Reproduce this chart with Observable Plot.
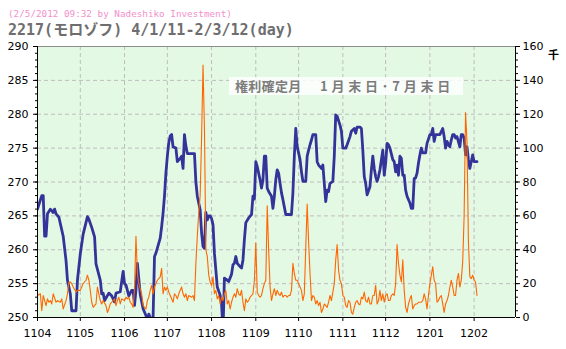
<!DOCTYPE html>
<html><head><meta charset="utf-8">
<script src="https://cdn.jsdelivr.net/npm/d3@7"></script>
<script src="https://cdn.jsdelivr.net/npm/@observablehq/plot@0.6"></script>
<style>
html,body{margin:0;padding:0;background:#fff}
body{width:566px;height:349px;position:relative;overflow:hidden}
#t1{position:absolute;left:8px;top:9px;font:9.3px "DejaVu Sans Mono",monospace;line-height:10px;color:#f48fcb;white-space:pre}
#t2{position:absolute;left:8px;top:23px;font:bold 15px "DejaVu Sans Mono","Noto Sans CJK JP",monospace;line-height:15px;color:#6e6e6e;white-space:pre}
#chart{position:absolute;left:0;top:40px}
#note{position:absolute;left:229px;top:77px;width:234px;height:18px;background:rgba(255,255,255,0.82)}
#note span{position:absolute;top:0;font:bold 13px "Noto Sans CJK JP",sans-serif;line-height:18px;color:#7c7c7c;white-space:pre}
#unit{position:absolute;left:548px;top:48px;font:bold 11px "Noto Sans CJK JP",sans-serif;line-height:12px;color:#000}
</style></head>
<body>
<div id="t1">(2/5/2012 09:32 by Nadeshiko Investment)</div>
<div id="t2">2217(モロゾフ) 4/1/11-2/3/12(day)</div>
<div id="chart"></div>
<div id="note"><span id="n1" style="left:6px;letter-spacing:0.3px">権利確定月</span><span id="n2" style="left:91px;letter-spacing:3.8px">1月末日･7月末日</span></div>
<div id="unit">千</div>
<script>
// ---- data ----
const priceData = [
["2011-04-01",266],["2011-04-04",268],["2011-04-05",268],["2011-04-06",262],["2011-04-07",262],["2011-04-08",265.3],
["2011-04-10",266],["2011-04-12",265.5],["2011-04-13",266],["2011-04-14",265.3],["2011-04-16",264.8],["2011-04-19",262],
["2011-04-21",258.4],["2011-04-22",255.5],["2011-04-24",253.5],["2011-04-25",251],["2011-04-28",251],["2011-04-29",255.5],
["2011-05-01",259.4],["2011-05-03",262.3],["2011-05-06",264.9],["2011-05-07",264.5],["2011-05-09",263.3],["2011-05-11",261.9],
["2011-05-12",257.9],["2011-05-15",255.5],["2011-05-16",253.5],["2011-05-17",253.6],["2011-05-18",252.5],["2011-05-21",253.6],
["2011-05-23",253.2],["2011-05-25",252.3],["2011-05-26",253.6],["2011-05-29",253.8],["2011-05-31",256.8],["2011-06-01",255],
["2011-06-02",254.8],["2011-06-04",253.2],["2011-06-06",254],["2011-06-07",254],["2011-06-08",251.8],["2011-06-09",254],
["2011-06-10",258],["2011-06-12",253.4],["2011-06-14",251.3],["2011-06-16",250.3],["2011-06-17",249.5],["2011-06-18",250.5],
["2011-06-20",249.5],["2011-06-21",250],["2011-06-22",259],["2011-06-23",259.5],["2011-06-26",261.7],["2011-06-27",263.4],
["2011-06-28",265.4],["2011-06-29",267.9],["2011-06-30",271.3],["2011-07-01",273.8],["2011-07-02",275.8],["2011-07-03",276.8],
["2011-07-04",277],["2011-07-05",275.2],["2011-07-07",275],["2011-07-08",273],["2011-07-10",273.5],["2011-07-11",273.8],
["2011-07-12",272],["2011-07-13",277],["2011-07-14",275.3],["2011-07-15",274.2],["2011-07-20",274.2],["2011-07-21",270],
["2011-07-22",267.9],["2011-07-24",265.9],["2011-07-25",262.5],["2011-07-26",260.5],["2011-07-27",260.2],["2011-07-28",265.5],
["2011-07-29",264.4],["2011-07-30",265],["2011-07-31",265],["2011-08-01",264.6],["2011-08-02",263.7],["2011-08-03",259.5],
["2011-08-04",257],["2011-08-05",254.5],["2011-08-07",253.3],["2011-08-08",252],["2011-08-09",248],["2011-08-10",255.8],
["2011-08-12",255.5],["2011-08-13",255.3],["2011-08-15",256.4],["2011-08-16",257.8],["2011-08-17",258],["2011-08-18",259],
["2011-08-19",258],["2011-08-21",257.5],["2011-08-22",257.3],["2011-08-23",258.5],["2011-08-24",261.5],["2011-08-25",264],
["2011-08-27",264.7],["2011-08-29",265.2],["2011-08-30",267.9],["2011-08-31",267.5],["2011-09-01",273],["2011-09-02",272.3],
["2011-09-03",271.3],["2011-09-04",270.3],["2011-09-05",269.1],["2011-09-06",270.3],["2011-09-07",273.8],["2011-09-08",273.8],
["2011-09-09",269.1],["2011-09-10",268.6],["2011-09-12",267.9],["2011-09-13",266.1],["2011-09-14",267.9],["2011-09-15",270.3],
["2011-09-16",271.8],["2011-09-17",271.3],["2011-09-18",269.8],["2011-09-19",268.4],["2011-09-20",267.4],["2011-09-22",265.2],
["2011-09-26",265.2],["2011-09-27",268.4],["2011-09-28",273.8],["2011-09-29",277.9],["2011-09-30",275.2],["2011-10-01",274.3],
["2011-10-02",273.3],["2011-10-03",271.5],["2011-10-04",270.1],["2011-10-06",270.1],["2011-10-07",273.8],["2011-10-08",274.7],
["2011-10-09",275.5],["2011-10-10",276.2],["2011-10-11",277],["2011-10-13",277],["2011-10-14",273],["2011-10-15",272.5],
["2011-10-17",272],["2011-10-18",272.5],["2011-10-20",267.1],["2011-10-21",268.8],["2011-10-22",268.6],["2011-10-23",269.8],
["2011-10-25",270.1],["2011-10-26",273.8],["2011-10-27",279.9],["2011-10-28",279.7],["2011-10-30",278.4],["2011-10-31",277.5],
["2011-11-01",275],["2011-11-03",275],["2011-11-04",275.5],["2011-11-06",276.7],["2011-11-07",277.5],["2011-11-09",277.9],
["2011-11-10",277.2],["2011-11-11",278.1],["2011-11-13",278.1],["2011-11-14",277.9],["2011-11-15",274.7],["2011-11-16",270.8],
["2011-11-17",269.8],["2011-11-18",268.1],["2011-11-20",269.3],["2011-11-21",271.8],["2011-11-22",273.8],["2011-11-23",272],
["2011-11-24",270.8],["2011-11-25",270.1],["2011-11-26",270.8],["2011-11-27",271.8],["2011-11-29",274.7],["2011-11-30",271],
["2011-12-01",272.8],["2011-12-02",275.7],["2011-12-03",275.5],["2011-12-04",275],["2011-12-06",273.3],["2011-12-07",273],
["2011-12-08",271.5],["2011-12-09",272.5],["2011-12-10",271],["2011-12-11",273.8],["2011-12-12",273.5],["2011-12-13",271],
["2011-12-14",271],["2011-12-15",268.8],["2011-12-16",267.9],["2011-12-18",266.9],["2011-12-19",266.1],["2011-12-20",266.1],
["2011-12-21",270.5],["2011-12-22",270.6],["2011-12-23",271.3],["2011-12-24",272.8],["2011-12-25",274],["2011-12-26",275],
["2011-12-27",274.3],["2011-12-29",274.3],["2011-12-30",275.7],["2012-01-01",277],["2012-01-02",277],["2012-01-03",277.9],
["2012-01-04",276],["2012-01-05",277],["2012-01-08",277],["2012-01-10",277.9],["2012-01-11",276.7],["2012-01-12",275],
["2012-01-13",276],["2012-01-14",275.5],["2012-01-15",275.2],["2012-01-16",276.2],["2012-01-17",277],["2012-01-18",277],
["2012-01-19",276.5],["2012-01-20",276.7],["2012-01-22",275.2],["2012-01-23",277],["2012-01-24",277],["2012-01-25",276.5],
["2012-01-26",274],["2012-01-27",275.2],["2012-01-28",273.3],["2012-01-29",272],["2012-01-30",273],["2012-01-31",274],
["2012-02-01",273],["2012-02-02",273],["2012-02-03",273]
];
const volumeData = [ // thousands of shares
["2011-04-01",13],["2011-04-03",14],["2011-04-04",4],["2011-04-05",13],["2011-04-07",7],["2011-04-08",11],["2011-04-09",9],
["2011-04-10",10],["2011-04-11",8],["2011-04-12",14],["2011-04-14",9],["2011-04-15",10],["2011-04-17",9],["2011-04-18",11],
["2011-04-19",5],["2011-04-21",10],["2011-04-22",14],["2011-04-23",21],["2011-04-24",21],["2011-04-25",20],["2011-04-26",18],
["2011-04-28",15],["2011-04-29",16],["2011-05-01",16],["2011-05-02",18],["2011-05-03",20],["2011-05-05",22],["2011-05-06",25],
["2011-05-07",22],["2011-05-08",16],["2011-05-09",9],["2011-05-10",6],["2011-05-12",8],["2011-05-13",18],["2011-05-14",14],
["2011-05-15",10],["2011-05-16",8],["2011-05-17",10],["2011-05-19",7],["2011-05-20",3],["2011-05-21",5],["2011-05-22",8],
["2011-05-23",9],["2011-05-25",11],["2011-05-26",7],["2011-05-27",10],["2011-05-28",12],["2011-05-29",8],["2011-05-30",11],
["2011-06-01",10],["2011-06-02",12],["2011-06-03",11],["2011-06-04",12],["2011-06-05",9],["2011-06-06",8],["2011-06-07",6],
["2011-06-08",17],["2011-06-09",48],["2011-06-10",26],["2011-06-11",20],["2011-06-13",14],["2011-06-14",7],["2011-06-16",5],
["2011-06-17",10],["2011-06-18",12],["2011-06-19",16],["2011-06-20",19],["2011-06-21",14],["2011-06-22",18],["2011-06-23",20],
["2011-06-24",22],["2011-06-26",24],["2011-06-27",29],["2011-06-28",14],["2011-06-29",18],["2011-06-30",16],["2011-07-01",18],
["2011-07-02",15],["2011-07-03",13],["2011-07-05",9],["2011-07-06",14],["2011-07-07",13],["2011-07-08",11],["2011-07-09",14],
["2011-07-11",18],["2011-07-12",14],["2011-07-13",12],["2011-07-14",14],["2011-07-15",10],["2011-07-16",13],["2011-07-18",12],
["2011-07-19",13],["2011-07-20",10],["2011-07-21",32],["2011-07-22",48],["2011-07-23",62],["2011-07-24",72],["2011-07-25",106],
["2011-07-26",149],["2011-07-27",112],["2011-07-28",40],["2011-07-29",36],["2011-07-30",25],["2011-07-31",21],["2011-08-01",19],
["2011-08-02",24],["2011-08-03",14],["2011-08-04",16],["2011-08-05",11],["2011-08-06",13],["2011-08-07",8],["2011-08-08",12],
["2011-08-09",10],["2011-08-10",14],["2011-08-11",16],["2011-08-12",8],["2011-08-13",10],["2011-08-14",5],["2011-08-15",9],
["2011-08-16",12],["2011-08-17",14],["2011-08-18",12],["2011-08-19",17],["2011-08-20",14],["2011-08-21",13],["2011-08-22",16],
["2011-08-23",9],["2011-08-24",4],["2011-08-25",11],["2011-08-26",9],["2011-08-27",10],["2011-08-28",12],["2011-08-29",13],
["2011-08-30",14],["2011-08-31",22],["2011-09-01",44],["2011-09-02",15],["2011-09-03",13],["2011-09-04",12],["2011-09-05",13],
["2011-09-06",17],["2011-09-07",20],["2011-09-08",22],["2011-09-09",66],["2011-09-10",40],["2011-09-11",18],["2011-09-12",10],
["2011-09-13",14],["2011-09-14",17],["2011-09-15",13],["2011-09-16",16],["2011-09-17",14],["2011-09-18",13],["2011-09-19",15],
["2011-09-20",12],["2011-09-21",13],["2011-09-22",13],["2011-09-23",12],["2011-09-24",13],["2011-09-25",13],["2011-09-26",16],
["2011-09-27",32],["2011-09-28",26],["2011-09-29",22],["2011-09-30",22],["2011-10-01",20],["2011-10-02",18],["2011-10-03",16],
["2011-10-04",10],["2011-10-05",14],["2011-10-06",41],["2011-10-07",67],["2011-10-08",45],["2011-10-09",26],["2011-10-10",10],
["2011-10-11",13],["2011-10-12",12],["2011-10-13",8],["2011-10-14",10],["2011-10-15",7],["2011-10-16",9],["2011-10-17",3],
["2011-10-18",5],["2011-10-19",8],["2011-10-20",7],["2011-10-21",6],["2011-10-22",9],["2011-10-23",13],["2011-10-24",10],
["2011-10-25",15],["2011-10-26",20],["2011-10-27",34],["2011-10-28",43],["2011-10-29",28],["2011-10-30",22],["2011-10-31",20],
["2011-11-01",13],["2011-11-02",12],["2011-11-03",7],["2011-11-04",6],["2011-11-05",10],["2011-11-06",9],["2011-11-07",3],
["2011-11-08",2],["2011-11-09",6],["2011-11-10",9],["2011-11-11",10],["2011-11-12",8],["2011-11-13",7.5],["2011-11-14",12],
["2011-11-15",11],["2011-11-16",15],["2011-11-17",10],["2011-11-18",9],["2011-11-19",12],["2011-11-20",8],["2011-11-21",8],
["2011-11-22",13],["2011-11-23",13],["2011-11-24",19],["2011-11-25",8],["2011-11-26",10],["2011-11-27",16],["2011-11-28",10],
["2011-11-29",14],["2011-11-30",9],["2011-12-01",13],["2011-12-02",14],["2011-12-03",10],["2011-12-04",10],["2011-12-05",13],
["2011-12-06",14],["2011-12-07",13],["2011-12-08",20],["2011-12-09",43],["2011-12-10",32],["2011-12-11",25],["2011-12-12",21],
["2011-12-13",34],["2011-12-14",16],["2011-12-15",6],["2011-12-16",3],["2011-12-17",8],["2011-12-18",11],["2011-12-19",13],
["2011-12-20",5],["2011-12-21",7],["2011-12-22",8],["2011-12-23",8],["2011-12-24",9],["2011-12-25",9],["2011-12-26",9],
["2011-12-27",10],["2011-12-28",14],["2011-12-29",11],["2011-12-30",5],["2011-12-31",13],["2012-01-01",20],["2012-01-02",25],
["2012-01-03",30],["2012-01-04",22],["2012-01-05",20],["2012-01-06",9],["2012-01-07",10],["2012-01-08",12],["2012-01-09",13],
["2012-01-10",8],["2012-01-11",3],["2012-01-12",8],["2012-01-13",10],["2012-01-14",13],["2012-01-15",18],["2012-01-16",22],
["2012-01-17",18],["2012-01-18",13],["2012-01-19",13],["2012-01-20",22],["2012-01-21",26],["2012-01-22",18],["2012-01-23",22],
["2012-01-24",33],["2012-01-25",60],["2012-01-26",121],["2012-01-27",104],["2012-01-28",45],["2012-01-29",24],["2012-01-30",23],
["2012-01-31",25],["2012-02-01",22],["2012-02-02",21],["2012-02-03",13]
];
const monthTickDates = ["2011-04-01","2011-05-01","2011-06-01","2011-07-01","2011-08-01","2011-09-01","2011-10-01",
  "2011-11-01","2011-12-01","2012-01-01","2012-02-01"];
const xDomainDates = ["2011-04-01","2012-03-01"];
const priceDomain = [250, 290];
const volumeMax = 160;

// ---- build ----
const toDate = s => new Date(s + "T00:00:00Z");
const priceRows = priceData.map(([d, v]) => ({date: toDate(d), v}));
const volRows = volumeData.map(([d, v]) => ({date: toDate(d), v}));
const months = monthTickDates.map(toDate);
const xDomain = xDomainDates.map(toDate);
const span = priceDomain[1] - priceDomain[0];
const volToPrice = v => priceDomain[0] + v / volumeMax * span;
const majorTicks = d3.range(priceDomain[0], priceDomain[1] + 1, 5);
const minorTicks = d3.range(priceDomain[0], priceDomain[1] + 1, 1);
const grid = {stroke: "#bdbdbd", strokeOpacity: 1, strokeDasharray: "4,3"};

const svg = Plot.plot({
  width: 566, height: 309,
  marginLeft: 37, marginRight: 51, marginTop: 6, marginBottom: 32,
  x: {type: "utc", domain: xDomain, label: null},
  y: {domain: priceDomain, label: null},
  style: {background: "transparent", fontFamily: "DejaVu Sans, sans-serif", fontSize: "11px", color: "#000", overflow: "visible"},
  marks: [
    Plot.frame({fill: "url(#dots)", stroke: null}),
    Plot.gridY(majorTicks.slice(1, -1), grid),
    Plot.gridX(months.slice(1), grid),
    Plot.line(priceRows, {x: "date", y: "v", stroke: "#333399", strokeWidth: 2.8, clip: true}),
    Plot.line(volRows, {x: "date", y: d => volToPrice(d.v), stroke: "#ff6600", strokeWidth: 1.1, clip: true}),
    Plot.ruleY([priceDomain[1]], {stroke: "#8c8c8c"}),
    Plot.axisY(majorTicks, {anchor: "left", tickSize: 4, tickPadding: 5, label: null, fill: "#000"}),
    Plot.axisY(minorTicks, {anchor: "left", tickSize: 2, tickFormat: () => "", label: null}),
    Plot.axisY(majorTicks, {anchor: "right", tickSize: 4, tickPadding: 3, label: null, fill: "#000",
      tickFormat: p => Math.round((p - priceDomain[0]) / span * volumeMax)}),
    Plot.axisY(minorTicks, {anchor: "right", tickSize: 2, tickFormat: () => "", label: null}),
    Plot.axisX(months, {tickSize: 4, tickPadding: 8, tickFormat: d3.utcFormat("%y%m"), label: null, fill: "#000"}),
    Plot.ruleX([xDomain[0], xDomain[1]], {stroke: "#000"}),
    Plot.ruleY([priceDomain[0]], {stroke: "#000"})
  ]
});
const ns = "http://www.w3.org/2000/svg";
const defs = document.createElementNS(ns, "defs");
defs.innerHTML = '<pattern id="dots" width="2" height="2" patternUnits="userSpaceOnUse">' +
  '<rect width="2" height="2" fill="#fbfffb"/><rect width="1" height="1" fill="#cdf2cd"/>' +
  '<rect x="1" y="1" width="1" height="1" fill="#cdf2cd"/></pattern>';
svg.insertBefore(defs, svg.firstChild);
document.getElementById("chart").appendChild(svg);
</script>
</body></html>
